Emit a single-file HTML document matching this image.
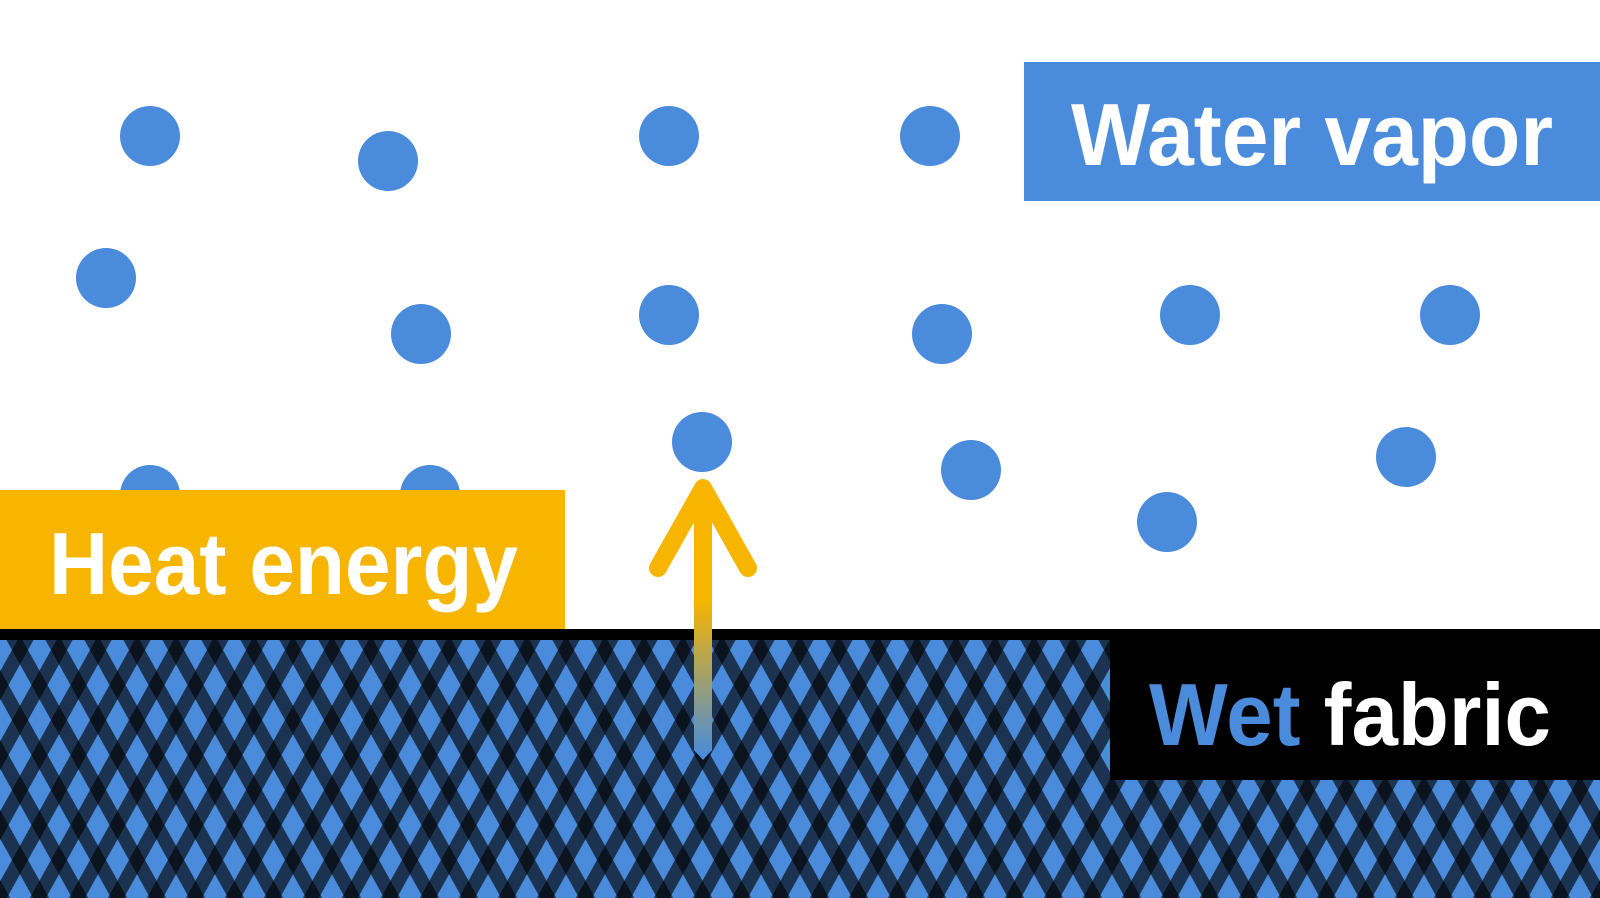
<!DOCTYPE html>
<html><head><meta charset="utf-8"><style>
html,body{margin:0;padding:0;background:#fff;}
svg{display:block}
text{font-family:"Liberation Sans",sans-serif;font-weight:bold;}
</style></head><body>
<svg width="1600" height="898" viewBox="0 0 1600 898" xmlns="http://www.w3.org/2000/svg">
<defs>
<pattern id="fab" x="39.5" y="615" width="39" height="70" patternUnits="userSpaceOnUse">
<rect x="-1" y="-1" width="41" height="72" fill="#4a8bdb"/>
<g fill="#000" fill-opacity="0.63">
<polygon points="-8,0 8,0 47,70 31,70"/>
<polygon points="-47,0 -31,0 8,70 -8,70"/>
<polygon points="31,0 47,0 86,70 70,70"/>
<polygon points="-8,0 8,0 -31,70 -47,70"/>
<polygon points="31,0 47,0 8,70 -8,70"/>
<polygon points="70,0 86,0 47,70 31,70"/>
</g>
</pattern>
<linearGradient id="ag" x1="0" y1="600" x2="0" y2="757" gradientUnits="userSpaceOnUse">
<stop offset="0" stop-color="#f7b500"/>
<stop offset="1" stop-color="#4a8bdb"/>
</linearGradient>
</defs>
<rect x="0" y="640" width="1600" height="258" fill="url(#fab)"/>
<rect x="0" y="629" width="1600" height="11" fill="#000"/>
<g fill="#4a8bdb">
<circle cx="150" cy="136" r="30"/><circle cx="388" cy="161" r="30"/>
<circle cx="669" cy="136" r="30"/><circle cx="930" cy="136" r="30"/>
<circle cx="106" cy="278" r="30"/><circle cx="421" cy="334" r="30"/>
<circle cx="669" cy="315" r="30"/><circle cx="942" cy="334" r="30"/>
<circle cx="1190" cy="315" r="30"/><circle cx="1450" cy="315" r="30"/>
<circle cx="150" cy="495" r="30"/><circle cx="430" cy="495" r="30"/>
<circle cx="702" cy="442" r="30"/><circle cx="971" cy="470" r="30"/>
<circle cx="1167" cy="522" r="30"/><circle cx="1406" cy="457" r="30"/>
</g>
<rect x="1024" y="62" width="576" height="139" fill="#4a8bdb"/>
<text x="1071" y="165" font-size="88" fill="#fff" textLength="482" lengthAdjust="spacingAndGlyphs">Water vapor</text>
<rect x="0" y="490" width="565" height="139" fill="#f7b500"/>
<text x="49" y="594" font-size="88" fill="#fff" textLength="469" lengthAdjust="spacingAndGlyphs">Heat energy</text>
<rect x="1110" y="640" width="490" height="140" fill="#000"/>
<text x="1149" y="745" font-size="88" fill="#fff" textLength="402" lengthAdjust="spacingAndGlyphs"><tspan fill="#4a8bdb">Wet</tspan> fabric</text>
<polygon points="694,490 712,490 712,750 703,760 694,750" fill="url(#ag)"/>
<polyline points="658,568 703,488 748,568" fill="none" stroke="#f7b500" stroke-width="18" stroke-linecap="round" stroke-linejoin="round"/>
</svg>
</body></html>
